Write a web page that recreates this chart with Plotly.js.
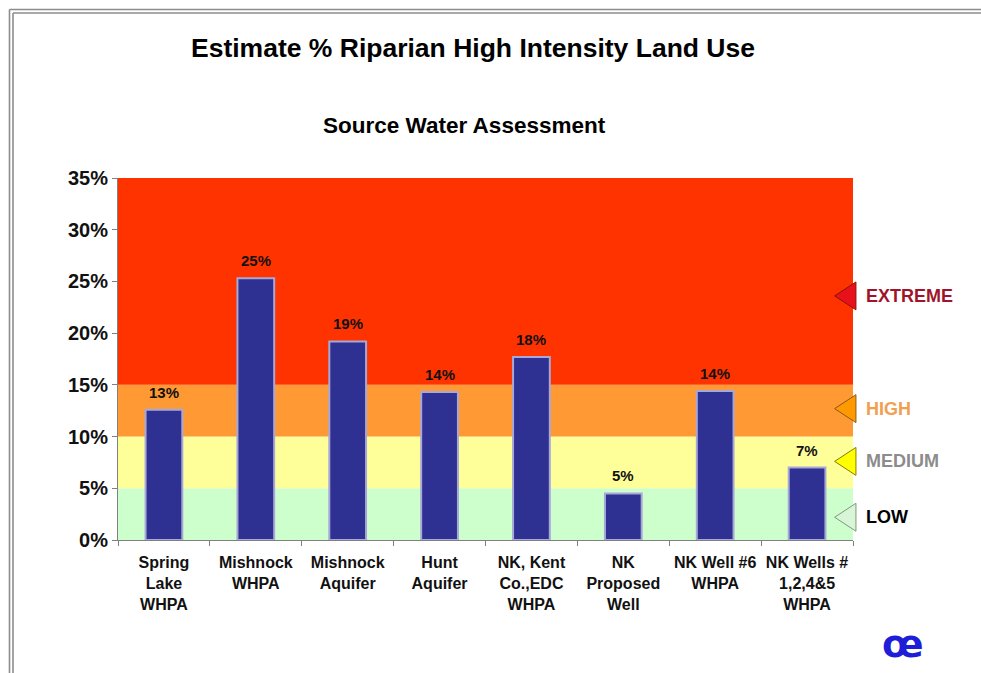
<!DOCTYPE html>
<html>
<head>
<meta charset="utf-8">
<script src="https://cdn.plot.ly/plotly-3.0.1.min.js"></script>
<style>
html,body{margin:0;padding:0;background:#fff;}
#chart{width:981px;height:673px;}
</style>
</head>
<body>
<div id="chart"></div>
<script>
// ---- data ----
const categories = [
  "Spring<br>Lake<br>WHPA",
  "Mishnock<br>WHPA",
  "Mishnock<br>Aquifer",
  "Hunt<br>Aquifer",
  "NK, Kent<br>Co.,EDC<br>WHPA",
  "NK<br>Proposed<br>Well",
  "NK Well #6<br>WHPA",
  "NK Wells #<br>1,2,4&5<br>WHPA"
];
const values = [12.6, 25.3, 19.2, 14.3, 17.7, 4.5, 14.4, 7.0];
const barLabels = ["13%", "25%", "19%", "14%", "18%", "5%", "14%", "7%"];

const bandNames  = ["LOW", "MEDIUM", "HIGH", "EXTREME"];
const bandLower  = [0, 5, 10, 15];
const bandUpper  = [5, 10, 15, 35];
const bandColors = ["#CCFFCC", "#FFFF99", "#FF9933", "#FF3300"];
const markerY    = [2.2, 7.6, 12.7, 23.6];
const markerFill = ["#D8F5D8", "#FFFF00", "#FF9900", "#E8101A"];
const markerLine = ["#7A9A7A", "#8A7A00", "#8A5A10", "#8A1010"];
const labelColors= ["#000000", "#8C8C8C", "#F0A050", "#A0142A"];
const yTicks = [0, 5, 10, 15, 20, 25, 30, 35];

// ---- layout pieces ----
const shapes = [];
for (let i = 0; i < bandNames.length; i++) {
  shapes.push({type:"rect", xref:"paper", yref:"y", x0:0, x1:1,
    y0:bandLower[i], y1:bandUpper[i], fillcolor:bandColors[i],
    line:{width:0}, layer:"below"});
}
// left-pointing triangles at the right of the plot
const tipX = 0.975, baseX = 1.004, halfH = 1.35;
for (let i = 0; i < bandNames.length; i++) {
  const y = markerY[i];
  shapes.push({type:"path", xref:"paper", yref:"y",
    path:`M ${tipX} ${y} L ${baseX} ${y+halfH} L ${baseX} ${y-halfH} Z`,
    fillcolor:markerFill[i], line:{color:markerLine[i], width:1}, layer:"above"});
}
// double frame lines (top and left)
const px = (p)=> (p-118)/735, py = (p)=> (540-p)/362;
[[9.5,1.6],[13,1.6]].forEach(([v,w])=>{
  shapes.push({type:"line", xref:"paper", yref:"paper", x0:px(v), x1:px(981), y0:py(v), y1:py(v), line:{color:"#8c8c8c", width:w}});
  shapes.push({type:"line", xref:"paper", yref:"paper", x0:px(v), x1:px(v), y0:py(v), y1:py(673), line:{color:"#8c8c8c", width:w}});
});

const annotations = [];
for (let i = 0; i < bandNames.length; i++) {
  annotations.push({xref:"paper", yref:"y", x:1.015, y:markerY[i], xanchor:"left", yanchor:"middle",
    text:"<b>"+bandNames[i]+"</b>", showarrow:false,
    font:{family:"Liberation Sans, Arial, sans-serif", size:18, color:labelColors[i]}});
}
// value labels above bars (positioned by the axes from the data arrays)
for (let i = 0; i < categories.length; i++) {
  annotations.push({xref:"x", yref:"y", x:categories[i], y:values[i], yanchor:"bottom", yshift:7,
    text:"<b>"+barLabels[i]+"</b>", showarrow:false,
    font:{family:"Liberation Sans, Arial, sans-serif", size:15, color:"#111"}});
}
annotations.push({xref:"paper", yref:"paper", x:px(473), y:py(48), xanchor:"center", yanchor:"middle",
  text:"<b>Estimate % Riparian High Intensity Land Use</b>", showarrow:false,
  font:{family:"Liberation Sans, Arial, sans-serif", size:26.5, color:"#000"}});
annotations.push({xref:"paper", yref:"paper", x:px(464), y:py(125), xanchor:"center", yanchor:"middle",
  text:"<b>Source Water Assessment</b>", showarrow:false,
  font:{family:"Liberation Sans, Arial, sans-serif", size:22.5, color:"#000"}});
annotations.push({xref:"paper", yref:"paper", x:px(903), y:py(644), xanchor:"center", yanchor:"middle",
  text:"<b>œ</b>", showarrow:false,
  font:{family:"DejaVu Sans, sans-serif", size:38, color:"#1E1ED8"}});

const trace = {
  type:"bar", x:categories, y:values,
  marker:{color:"#2E3192", line:{color:"#A8A8D8", width:2}},
  hoverinfo:"skip"
};

const layout = {
  width:981, height:673,
  margin:{l:118, r:128, t:178, b:133},
  paper_bgcolor:"#ffffff", plot_bgcolor:"#ffffff",
  showlegend:false, bargap:0.6,
  xaxis:{type:"category", showgrid:false, zeroline:false,
    showline:true, linecolor:"#808080", linewidth:1,
    ticks:"outside", tickson:"boundaries", ticklen:5, tickcolor:"#808080",
    tickangle:0, ticklabelstandoff:8,
    tickvals:categories, ticktext:categories.map(c=>"<b>"+c+"</b>"),
    tickfont:{family:"Liberation Sans Narrow, Arial Narrow, Liberation Sans, Arial, sans-serif", size:16, color:"#111"}},
  yaxis:{range:[0,35], tickvals:yTicks, ticktext:yTicks.map(v=>"<b>"+v+"%</b>"),
    showgrid:false, zeroline:false, showline:true, linecolor:"#808080", linewidth:1,
    ticks:"outside", ticklen:5, tickcolor:"#808080",
    tickfont:{family:"Liberation Sans, Arial, sans-serif", size:20, color:"#111"}},
  shapes:shapes, annotations:annotations
};

Plotly.newPlot("chart", [trace], layout, {staticPlot:true, displayModeBar:false});
</script>
</body>
</html>
